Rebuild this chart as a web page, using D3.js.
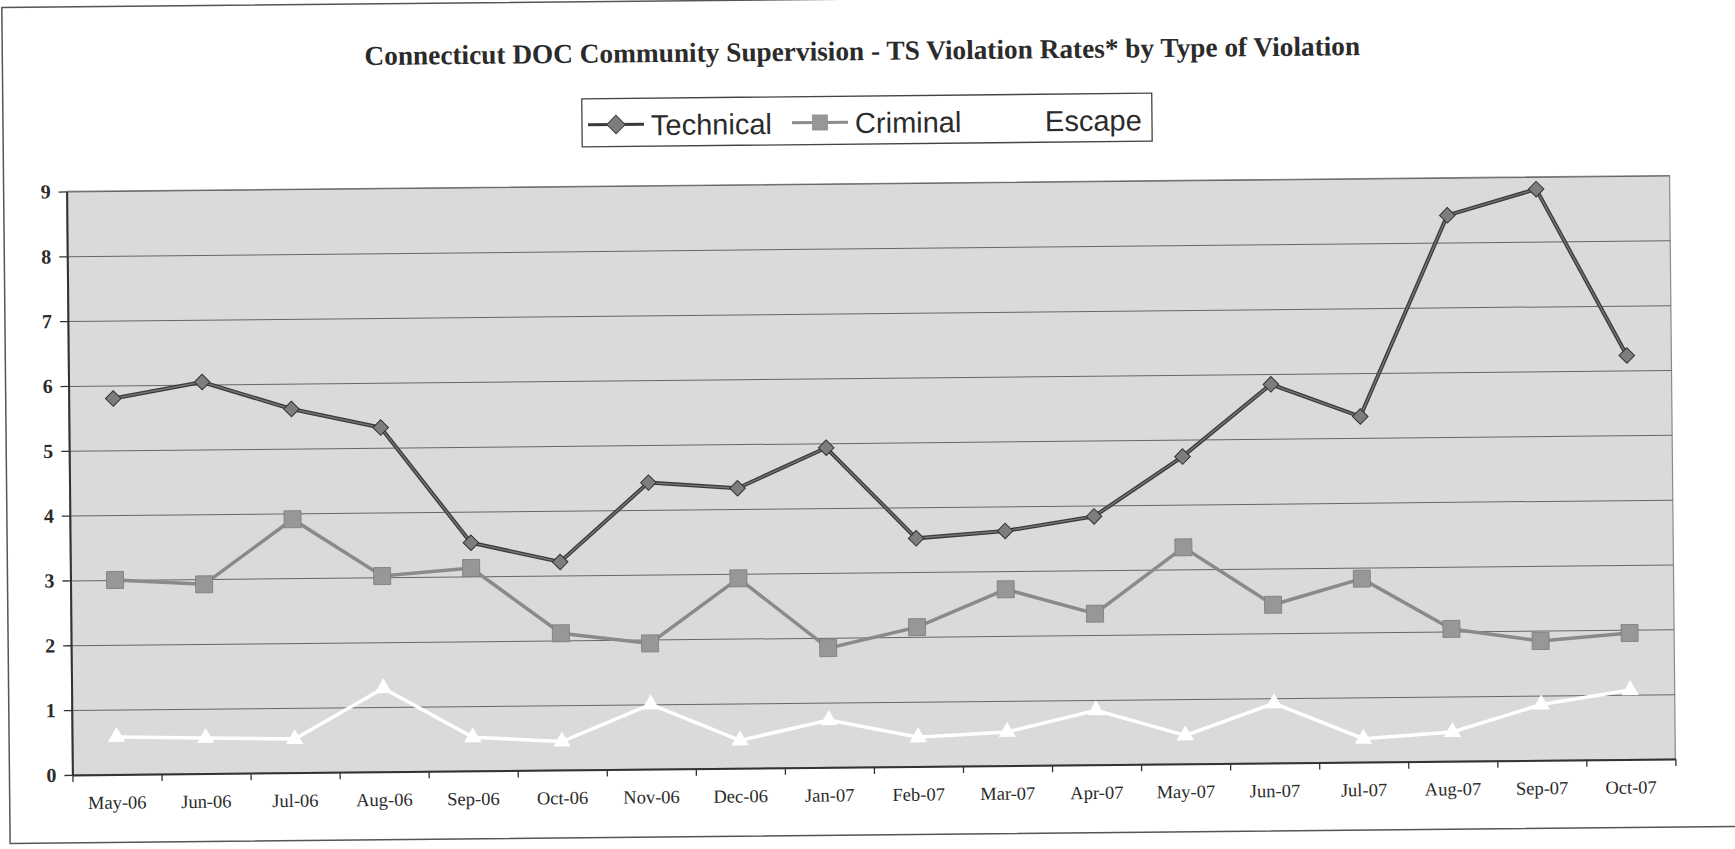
<!DOCTYPE html>
<html>
<head>
<meta charset="utf-8">
<script src="https://cdn.jsdelivr.net/npm/d3@7/dist/d3.min.js"></script>
<style>
  body { margin: 0; background: #fff; }
</style>
</head>
<body>
<div id="chart"></div>
<script>
const months = ['May-06', 'Jun-06', 'Jul-06', 'Aug-06', 'Sep-06', 'Oct-06', 'Nov-06', 'Dec-06', 'Jan-07',
  'Feb-07', 'Mar-07', 'Apr-07', 'May-07', 'Jun-07', 'Jul-07', 'Aug-07', 'Sep-07', 'Oct-07'];
const technical = [5.80, 6.04, 5.61, 5.31, 3.52, 3.21, 4.42, 4.32, 4.93, 3.52, 3.62, 3.83, 4.74, 5.84, 5.33, 8.42, 8.81, 6.23];
const criminal = [3.00, 2.92, 3.91, 3.02, 3.13, 2.11, 1.94, 2.93, 1.84, 2.15, 2.72, 2.33, 3.34, 2.44, 2.83, 2.04, 1.84, 1.95];
const escape = [0.58, 0.55, 0.52, 1.29, 0.52, 0.44, 1.00, 0.43, 0.73, 0.45, 0.52, 0.84, 0.44, 0.92, 0.36, 0.45, 0.86, 1.07];
const yTicks = [0, 1, 2, 3, 4, 5, 6, 7, 8, 9];
const seriesNames = ['Technical', 'Criminal', 'Escape'];
const title = 'Connecticut DOC Community Supervision - TS Violation Rates* by Type of Violation';

const W = 1735, H = 849;
const plot = { left: 69, right: 1672, top: 183.5, bottom: 767 };

const svg = d3
  .select('#chart')
  .append('svg')
  .attr('width', W)
  .attr('height', H)
  .style('background', '#fff');

// the scanned page is tilted a little
const g = svg.append('g').attr('transform', `rotate(-0.57, ${W / 2}, ${H / 2})`);

// outer chart frame
g.append('rect')
  .attr('x', 6)
  .attr('y', -1)
  .attr('width', 1800)
  .attr('height', 836)
  .attr('fill', 'none')
  .attr('stroke', '#555')
  .attr('stroke-width', 1.5);

// Title
const titleText = g
  .append('text')
  .attr('x', 866)
  .attr('y', 60)
  .attr('text-anchor', 'middle')
  .style('font-family', '"Liberation Serif", "Times New Roman", serif')
  .style('font-weight', 'bold')
  .style('font-size', '24px')
  .attr('fill', '#2b2b2b')
  .text(title);
const tw = titleText.node().getComputedTextLength();
titleText.style('font-size', (24 * 996) / tw + 'px');

// scales
const x = d3.scaleBand().domain(months).range([plot.left, plot.right]);
const edge = d3.scaleLinear().domain([0, months.length]).range([plot.left, plot.right]);
const y = d3.scaleLinear().domain([0, 9]).range([plot.bottom, plot.top]);
const cx = (i) => x(months[i]) + x.bandwidth() / 2;

// plot area
g.append('rect')
  .attr('x', plot.left)
  .attr('y', plot.top)
  .attr('width', plot.right - plot.left)
  .attr('height', plot.bottom - plot.top)
  .attr('fill', '#dadada')
  .attr('stroke', '#8a8a8a')
  .attr('stroke-width', 1.2);

// gridlines
g.append('g')
  .attr('transform', `translate(${plot.left},0)`)
  .call(d3.axisLeft(y).tickValues(yTicks.slice(1)).tickSize(-(plot.right - plot.left)).tickFormat(''))
  .call((a) => a.select('.domain').remove())
  .selectAll('line')
  .attr('stroke', '#666')
  .attr('stroke-width', 1);

// Y axis
g.append('g')
  .attr('transform', `translate(${plot.left},0)`)
  .call(d3.axisLeft(y).tickValues(yTicks).tickSize(8).tickSizeOuter(0).tickPadding(8))
  .call((a) => a.select('.domain').attr('stroke', '#333').attr('stroke-width', 2))
  .call((a) => a.selectAll('line').attr('stroke', '#333').attr('stroke-width', 1.3))
  .selectAll('text')
  .attr('fill', '#2b2b2b')
  .style('font-family', '"Liberation Serif", "Times New Roman", serif')
  .style('font-weight', 'bold')
  .style('font-size', '20px');

// X axis ticks at category edges
g.append('g')
  .attr('transform', `translate(0,${plot.bottom})`)
  .call(d3.axisBottom(edge).tickValues(d3.range(months.length + 1)).tickSize(7).tickSizeOuter(0).tickFormat(''))
  .call((a) => a.select('.domain').attr('stroke', '#333').attr('stroke-width', 2))
  .selectAll('line')
  .attr('stroke', '#333')
  .attr('stroke-width', 1.3);

// X labels
g.append('g')
  .attr('transform', `translate(0,${plot.bottom})`)
  .call(d3.axisBottom(x).tickSize(0).tickPadding(21))
  .call((a) => a.select('.domain').remove())
  .selectAll('text')
  .attr('fill', '#2b2b2b')
  .style('font-family', '"Liberation Serif", "Times New Roman", serif')
  .style('font-size', '18.5px');

const line = d3
  .line()
  .x((d, i) => cx(i))
  .y((d) => y(d));

// Escape
g.append('path')
  .datum(escape)
  .attr('d', line)
  .attr('fill', 'none')
  .attr('stroke', '#fff')
  .attr('stroke-width', 3.5);
g.append('g')
  .selectAll('path')
  .data(escape)
  .join('path')
  .attr('transform', (d, i) => `translate(${cx(i)},${y(d)})`)
  .attr('d', d3.symbol(d3.symbolTriangle, 130))
  .attr('fill', '#fff');

// Criminal
g.append('path')
  .datum(criminal)
  .attr('d', line)
  .attr('fill', 'none')
  .attr('stroke', '#8a8a8a')
  .attr('stroke-width', 3.5);
g.append('g')
  .selectAll('rect')
  .data(criminal)
  .join('rect')
  .attr('x', (d, i) => cx(i) - 8.5)
  .attr('y', (d) => y(d) - 8.5)
  .attr('width', 17)
  .attr('height', 17)
  .attr('fill', '#979797')
  .attr('stroke', '#7a7a7a')
  .attr('stroke-width', 0.8);

// Technical
g.append('path')
  .datum(technical)
  .attr('d', line)
  .attr('fill', 'none')
  .attr('stroke', '#3a3a3a')
  .attr('stroke-width', 4);
g.append('path')
  .datum(technical)
  .attr('d', line)
  .attr('fill', 'none')
  .attr('stroke', '#767676')
  .attr('stroke-width', 1.4);
g.append('g')
  .selectAll('rect')
  .data(technical)
  .join('rect')
  .attr('x', -5.5)
  .attr('y', -5.5)
  .attr('width', 11)
  .attr('height', 11)
  .attr('transform', (d, i) => `translate(${cx(i)},${y(d)}) rotate(45)`)
  .attr('fill', '#7d7d7d')
  .attr('stroke', '#333')
  .attr('stroke-width', 1);

// Legend
const legend = g.append('g');
legend
  .append('rect')
  .attr('x', 585)
  .attr('y', 96)
  .attr('width', 570)
  .attr('height', 48)
  .attr('fill', '#fff')
  .attr('stroke', '#444')
  .attr('stroke-width', 1.3);

const legendX = [591, 795, 985];
const legendLine = ['#3a3a3a', '#8a8a8a', '#fff'];
legendX.forEach((lx, i) => {
  legend
    .append('line')
    .attr('x1', lx)
    .attr('x2', lx + 56)
    .attr('y1', 122)
    .attr('y2', 122)
    .attr('stroke', legendLine[i])
    .attr('stroke-width', 3);
  const m = legend.append('g').attr('transform', `translate(${lx + 28},122)`);
  if (i === 0) {
    m.append('rect')
      .attr('x', -6.5)
      .attr('y', -6.5)
      .attr('width', 13)
      .attr('height', 13)
      .attr('transform', 'rotate(45)')
      .attr('fill', '#7d7d7d')
      .attr('stroke', '#444');
  } else if (i === 1) {
    m.append('rect')
      .attr('x', -8)
      .attr('y', -8)
      .attr('width', 16)
      .attr('height', 16)
      .attr('fill', '#979797');
  } else {
    m.append('path').attr('d', d3.symbol(d3.symbolTriangle, 120)).attr('fill', '#fff');
  }
  legend
    .append('text')
    .attr('x', lx + 63)
    .attr('y', 133)
    .attr('fill', '#2b2b2b')
    .style('font-family', '"Liberation Sans", Arial, sans-serif')
    .style('font-size', '29px')
    .text(seriesNames[i]);
});
</script>
</body>
</html>
